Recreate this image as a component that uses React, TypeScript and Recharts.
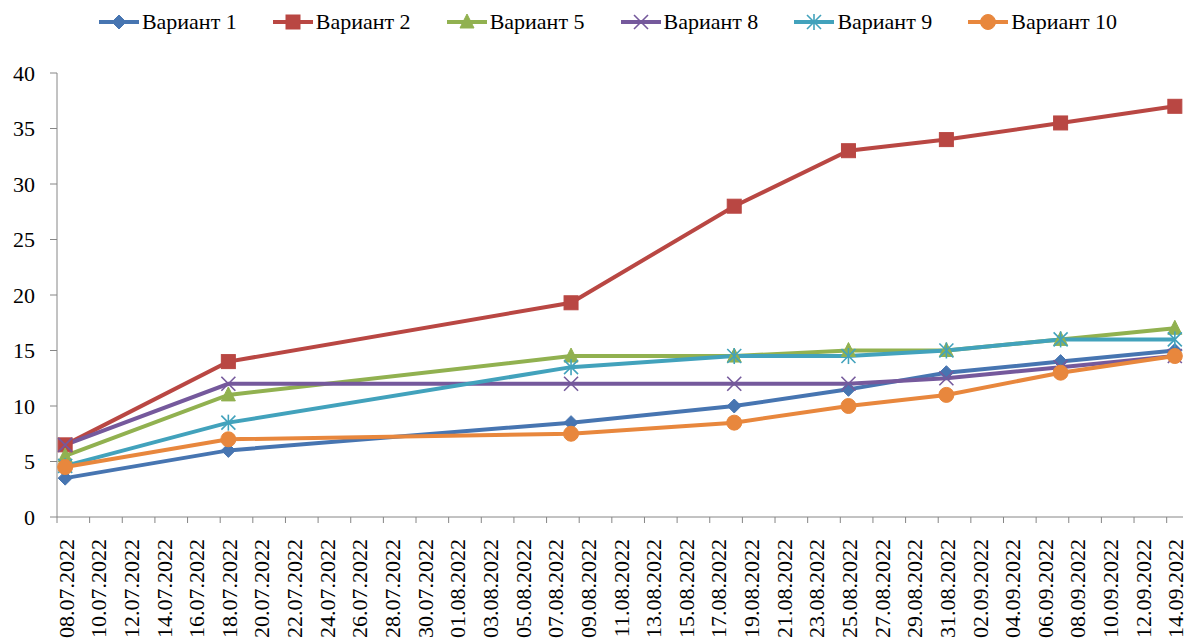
import React from "react";
import { LineChart, Line, XAxis, YAxis, Legend } from "recharts";

const dates = ["08.07.2022", "18.07.2022", "08.08.2022", "18.08.2022", "25.08.2022", "31.08.2022", "07.09.2022", "14.09.2022"];
const variant1 = [3.5, 6, 8.5, 10, 11.5, 13, 14, 15];
const variant2 = [6.5, 14, 19.3, 28, 33, 34, 35.5, 37];
const variant5 = [5.5, 11, 14.5, 14.5, 15, 15, 16, 17];
const variant8 = [6.5, 12, 12, 12, 12, 12.5, 13.5, 14.5];
const variant9 = [4.6, 8.5, 13.5, 14.5, 14.5, 15, 16, 16];
const variant10 = [4.5, 7, 7.5, 8.5, 10, 11, 13, 14.5];
const xTickLabels = [
  "08.07.2022", "10.07.2022", "12.07.2022", "14.07.2022", "16.07.2022", "18.07.2022", "20.07.2022",
  "22.07.2022", "24.07.2022", "26.07.2022", "28.07.2022", "30.07.2022", "01.08.2022", "03.08.2022",
  "05.08.2022", "07.08.2022", "09.08.2022", "11.08.2022", "13.08.2022", "15.08.2022", "17.08.2022",
  "19.08.2022", "21.08.2022", "23.08.2022", "25.08.2022", "27.08.2022", "29.08.2022", "31.08.2022",
  "02.09.2022", "04.09.2022", "06.09.2022", "08.09.2022", "10.09.2022", "12.09.2022", "14.09.2022",
];
const yTicks = [0, 5, 10, 15, 20, 25, 30, 35, 40];

const FONT = "Liberation Serif, Times New Roman, Tinos, Noto Serif, DejaVu Serif, serif";
const W = 1189;
const H = 641;
const Y_W = 57;
const M_R = 6;
const M_TOP = 33;
const LEGEND_H = 40;
const X_H = 124;

const toDay = (s: string) => {
  const [d, m, y] = s.split(".").map(Number);
  return Date.UTC(y, m - 1, d) / 86400000;
};
const base = toDay(dates[0]);
const dayOf = (s: string) => toDay(s) - base;
const lastDay = dayOf(xTickLabels[xTickLabels.length - 1]);
const domain: [number, number] = [-0.5, lastDay + 0.5];
const tickDays = xTickLabels.map(dayOf);
const labelByDay: Record<number, string> = {};
xTickLabels.forEach((l) => (labelByDay[dayOf(l)] = l));

const data = dates.map((d, i) => ({
  day: dayOf(d),
  v1: variant1[i],
  v2: variant2[i],
  v5: variant5[i],
  v8: variant8[i],
  v9: variant9[i],
  v10: variant10[i],
}));

type Shape = "diamond" | "square" | "triangle" | "x" | "star" | "circle";

const series: { key: string; name: string; line: string; fill: string; shape: Shape }[] = [
  { key: "v1", name: "Вариант 1", line: "#4775B1", fill: "#4775B1", shape: "diamond" },
  { key: "v2", name: "Вариант 2", line: "#B94743", fill: "#B94743", shape: "square" },
  { key: "v5", name: "Вариант 5", line: "#91B150", fill: "#91B150", shape: "triangle" },
  { key: "v8", name: "Вариант 8", line: "#75599C", fill: "#75599C", shape: "x" },
  { key: "v9", name: "Вариант 9", line: "#42A2BC", fill: "#42A2BC", shape: "star" },
  { key: "v10", name: "Вариант 10", line: "#E8873D", fill: "#E8873D", shape: "circle" },
];

function Marker({ shape, cx, cy, fill }: { shape: Shape; cx: number; cy: number; fill: string }) {
  switch (shape) {
    case "diamond":
      return <polygon points={`${cx},${cy - 7} ${cx + 7},${cy} ${cx},${cy + 7} ${cx - 7},${cy}`} fill={fill} stroke={fill} strokeWidth={1} />;
    case "square":
      return <rect x={cx - 7} y={cy - 7} width={14} height={14} fill={fill} stroke={fill} strokeWidth={1} />;
    case "triangle":
      return <polygon points={`${cx},${cy - 8} ${cx + 7},${cy + 6} ${cx - 7},${cy + 6}`} fill={fill} stroke={fill} strokeWidth={1} />;
    case "x":
      return (
        <g stroke={fill} strokeWidth={1.6}>
          <line x1={cx - 7} y1={cy - 7} x2={cx + 7} y2={cy + 7} />
          <line x1={cx - 7} y1={cy + 7} x2={cx + 7} y2={cy - 7} />
        </g>
      );
    case "star":
      return (
        <g stroke={fill} strokeWidth={1.6}>
          <line x1={cx - 7} y1={cy - 7} x2={cx + 7} y2={cy + 7} />
          <line x1={cx - 7} y1={cy + 7} x2={cx + 7} y2={cy - 7} />
          <line x1={cx} y1={cy - 8} x2={cx} y2={cy + 8} />
        </g>
      );
    default:
      return <circle cx={cx} cy={cy} r={7.5} fill={fill} stroke={fill} strokeWidth={1} />;
  }
}

const plotW = W - Y_W - M_R;
const halfDay = plotW / (domain[1] - domain[0]) / 2;

const XTick = (props: any) => {
  const { x, y, payload } = props;
  const label = labelByDay[payload.value] ?? "";
  return (
    <g>
      <line x1={x - halfDay} y1={y} x2={x - halfDay} y2={y + 6} stroke="#868686" strokeWidth={1} />
      <text
        transform={`translate(${x + 1},${y}) rotate(-90)`}
        x={-22}
        y={0}
        textAnchor="end"
        dominantBaseline="central"
        style={{ fontFamily: FONT }}
        fontSize={22}
        fill="#000"
      >
        {label}
      </text>
    </g>
  );
};

const LegendContent = () => (
  <div
    style={{
      display: "flex",
      justifyContent: "center",
      gap: 35,
      paddingLeft: 26,
      fontFamily: FONT,
      fontSize: 22,
      color: "#000",
      height: LEGEND_H,
      alignItems: "center",
    }}
  >
    {series.map((s) => (
      <div key={s.key} style={{ display: "flex", alignItems: "center" }}>
        <svg width={42} height={20} style={{ display: "block" }}>
          <line x1={1} y1={10} x2={41} y2={10} stroke={s.line} strokeWidth={4} />
          <Marker shape={s.shape} cx={21} cy={10} fill={s.fill} />
        </svg>
        <span style={{ marginLeft: 2 }}>{s.name}</span>
      </div>
    ))}
  </div>
);

export default function App() {
  return (
    <div style={{ position: "absolute", left: 0, top: 0, width: W, height: H, background: "#fff", fontFamily: FONT }}>
      <LineChart width={W} height={H} data={data} margin={{ top: M_TOP, right: M_R, left: 0, bottom: 0 }} style={{ fontFamily: FONT }}>
        <Legend
          verticalAlign="top"
          align="left"
          height={LEGEND_H}
          content={<LegendContent />}
          wrapperStyle={{ top: 2, left: 0, width: W }}
        />
        <XAxis
          type="number"
          dataKey="day"
          domain={domain}
          ticks={tickDays}
          interval={0}
          tick={<XTick />}
          tickLine={false}
          tickSize={0}
          tickMargin={0}
          height={X_H}
          axisLine={{ stroke: "#868686", strokeWidth: 1 }}
          allowDataOverflow
        />
        <YAxis
          type="number"
          domain={[0, 40]}
          ticks={yTicks}
          interval={0}
          width={Y_W}
          tickSize={7}
          tickMargin={15}
          tickLine={{ stroke: "#868686" }}
          axisLine={{ stroke: "#868686", strokeWidth: 1 }}
          tick={{ style: { fontFamily: FONT }, fontSize: 22, fill: "#000" }}
        />
        {series.map((s) => (
          <Line
            key={s.key}
            dataKey={s.key}
            name={s.name}
            stroke={s.line}
            strokeWidth={4}
            isAnimationActive={false}
            dot={(p: any) => <Marker key={`${s.key}-${p.index}`} shape={s.shape} cx={p.cx} cy={p.cy} fill={s.fill} />}
            activeDot={false}
          />
        ))}
      </LineChart>
    </div>
  );
}
